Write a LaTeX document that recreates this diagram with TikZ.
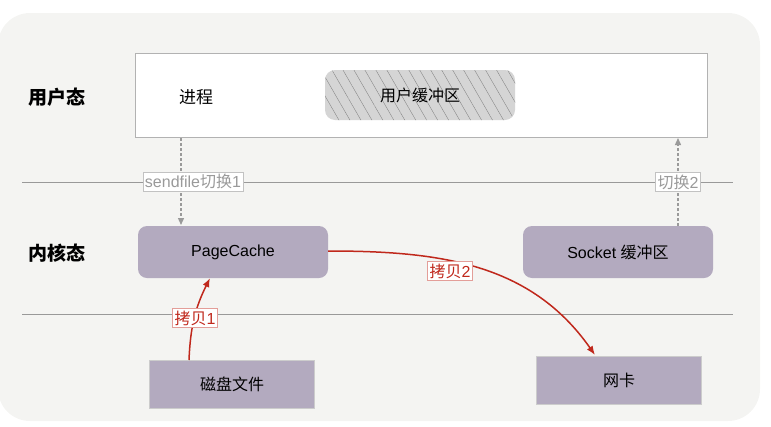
\documentclass[tikz,border=0pt]{standalone}
\usepackage{fontspec}
\setmainfont{Liberation Sans}
\newfontfamily\cjk{Noto Sans CJK SC}
\usetikzlibrary{positioning, arrows.meta, patterns.meta}

\definecolor{bggray}{HTML}{F4F4F2}
\definecolor{boxpurple}{HTML}{B3AABF}
\definecolor{copyred}{HTML}{C0281C}
\definecolor{switchgray}{HTML}{9A9A9A}

\begin{document}
\begin{tikzpicture}[x=1pt, y=-1pt,
        font=\fontsize{16}{19}\selectfont,
        box/.style = {rectangle, fill=boxpurple, draw=#1,
                    minimum width=165pt, minimum height=48pt},
        rbox/.style = {rectangle, rounded corners=9pt, fill=boxpurple,
                    minimum width=190pt, minimum height=52pt},
        state/.style = {font=\fontsize{19}{22}\selectfont\cjk\bfseries},
        switch/.style = {draw=switchgray, densely dashed, line width=1.3pt,
                    -{Triangle[length=7pt, width=6pt, fill=switchgray]}},
        switchlbl/.style = {fill=white, draw=switchgray!60, text=switchgray,
                    inner sep=2pt, line width=0.6pt, solid},
        copy/.style = {draw=copyred, line width=1.5pt,
                    -{Latex[length=9pt, width=7pt]}},
        copylbl/.style = {fill=white, draw=copyred!45, text=copyred,
                    inner sep=2pt, line width=0.6pt}
                    ]
        \useasboundingbox (0,0) rectangle (771,426);
        \fill[bggray, rounded corners=32pt] (-2,13) rectangle (760,421);
        %
        \draw[gray!80, line width=0.8pt] (22,182) -- (733,182);
        \draw[gray!80, line width=0.8pt] (22,314) -- (733,314);
        %
        \node (user) [state] at (57,97) {用户态};
        \node (kernel) [state] at (57,253) {内核态};
        \node (proc) [rectangle, draw=gray!60, fill=white, line width=0.8pt,
                    minimum width=572pt, minimum height=84pt] at (421,95) {};
        \node (ptext) [font=\fontsize{17}{20}\selectfont\cjk] at (196,97) {进程};
        \node (ubuf) [rectangle, rounded corners=10pt, minimum width=190pt, minimum height=50pt,
                    preaction={fill=gray!33},
                    pattern={Lines[angle=-60, distance=9.5pt, line width=0.35pt]},
                    pattern color=gray] at (420,95) {};
        \node at (ubuf) {\cjk 用户缓冲区};
        %
        \node (cache) [rbox] at (233,252) {PageCache};
        \node (sock) [rbox] at (618,252) {Socket {\cjk 缓冲区}};
        \node (disk) [box=gray!40] at (232,384) {\cjk 磁盘文件};
        \node (nic) [box=gray!40] at (619,380) {\cjk 网卡};
        %
        \draw[switch] (181,138) -- (181,225)
            node[switchlbl, pos=0.5, xshift=12pt] {sendfile{\cjk 切换}1};
        \draw[switch] (678,226) -- (678,138)
            node[switchlbl, pos=0.5] {{\cjk 切换}2};
        %
        \draw[copy] (189,360) to[bend left=12] (210,278);
        \node[copylbl] at (195,318) {{\cjk 拷贝}1};
        \draw[copy] (328,251) to[out=0, in=125] (595,355);
        \node[copylbl] at (450,271) {{\cjk 拷贝}2};
    \end{tikzpicture}
\end{document}
